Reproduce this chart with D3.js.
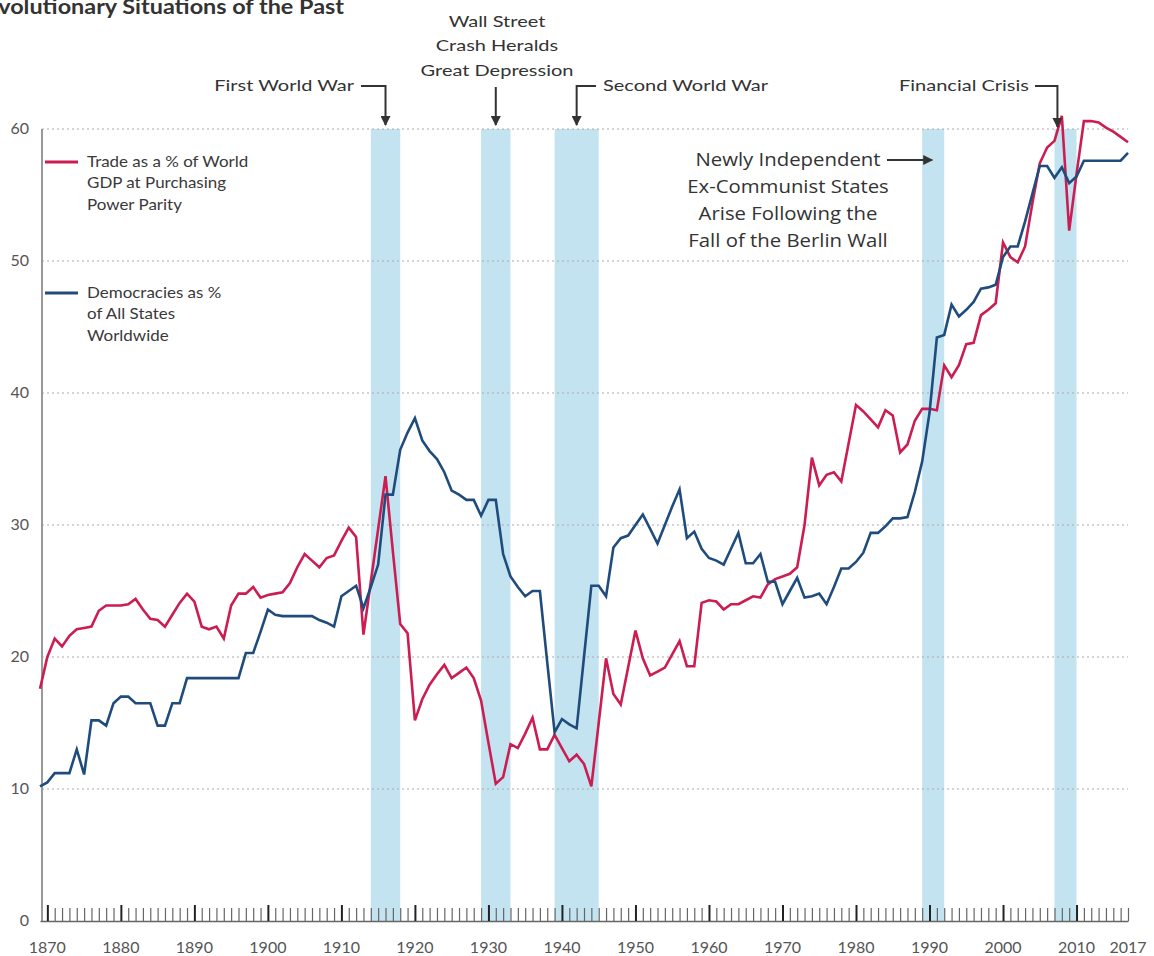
<!DOCTYPE html>
<html>
<head>
<meta charset="utf-8">
<script src="https://cdn.jsdelivr.net/npm/d3@7"></script>
<style>
	body { margin: 0; background: #fff; }
	svg { display: block; font-family: Lato, 'Open Sans', sans-serif; }
</style>
</head>
<body>
<svg width="1154" height="956"></svg>
<script>
// years run from the first point on the axis to 2017
const years = d3.range(1869, 2018);

// trade as a % of world GDP (PPP), one value per year
const trade = [
	17.6,
	20.0, 21.4, 20.8, 21.6, 22.1, 22.2, 22.3, 23.5, 23.9, 23.9, // 1870s
	23.9, 24.0, 24.4, 23.6, 22.9, 22.8, 22.3, 23.2, 24.1, 24.8, // 1880s
	24.2, 22.3, 22.1, 22.3, 21.4, 23.9, 24.8, 24.8, 25.3, 24.5, // 1890s
	24.7, 24.8, 24.9, 25.6, 26.8, 27.8, 27.3, 26.8, 27.5, 27.7, // 1900s
	28.8, 29.8, 29.1, 21.7, 25.7, 29.7, 33.7, 28.0, 22.5, 21.8, // 1910s
	15.2, 16.8, 17.9, 18.7, 19.4, 18.4, 18.8, 19.2, 18.4, 16.7, // 1920s
	13.5, 10.4, 10.9, 13.4, 13.1, 14.2, 15.4, 13.0, 13.0, 14.1, // 1930s
	13.1, 12.1, 12.6, 11.9, 10.2, 15.0, 19.9, 17.2, 16.4, 19.2, // 1940s
	22.0, 19.9, 18.6, 18.9, 19.2, 20.2, 21.2, 19.3, 19.3, 24.1, // 1950s
	24.3, 24.2, 23.6, 24.0, 24.0, 24.3, 24.6, 24.5, 25.5, 25.9, // 1960s
	26.1, 26.3, 26.8, 30.0, 35.1, 33.0, 33.8, 34.0, 33.3, 36.2, // 1970s
	39.1, 38.6, 38.0, 37.4, 38.7, 38.3, 35.5, 36.1, 37.9, 38.8, // 1980s
	38.8, 38.7, 42.1, 41.2, 42.1, 43.7, 43.8, 45.9, 46.3, 46.8, // 1990s
	51.4, 50.3, 49.9, 51.1, 54.4, 57.4, 58.6, 59.1, 61.0, 52.3, // 2000s
	56.6, 60.6, 60.6, 60.5, 60.1, 59.8, 59.4, 59.0              // 2010s
];

// democracies as % of all states
const democracy = [
	10.2,
	10.5, 11.2, 11.2, 11.2, 13.0, 11.1, 15.2, 15.2, 14.8, 16.5, // 1870s
	17.0, 17.0, 16.5, 16.5, 16.5, 14.8, 14.8, 16.5, 16.5, 18.4, // 1880s
	18.4, 18.4, 18.4, 18.4, 18.4, 18.4, 18.4, 20.3, 20.3, 21.9, // 1890s
	23.6, 23.2, 23.1, 23.1, 23.1, 23.1, 23.1, 22.8, 22.6, 22.3, // 1900s
	24.6, 25.0, 25.4, 23.7, 25.3, 27.0, 32.3, 32.3, 35.7, 37.0, // 1910s
	38.1, 36.4, 35.6, 35.0, 34.0, 32.6, 32.3, 31.9, 31.9, 30.7, // 1920s
	31.9, 31.9, 27.8, 26.1, 25.3, 24.6, 25.0, 25.0, 19.6, 14.3, // 1930s
	15.3, 14.9, 14.6, 20.0, 25.4, 25.4, 24.6, 28.3, 29.0, 29.2, // 1940s
	30.0, 30.8, 29.7, 28.6, 30.0, 31.4, 32.7, 29.0, 29.5, 28.2, // 1950s
	27.5, 27.3, 27.0, 28.2, 29.4, 27.1, 27.1, 27.8, 25.7, 25.7, // 1960s
	24.0, 25.0, 26.0, 24.5, 24.6, 24.8, 24.0, 25.3, 26.7, 26.7, // 1970s
	27.2, 27.9, 29.4, 29.4, 29.9, 30.5, 30.5, 30.6, 32.5, 34.8, // 1980s
	38.5, 44.2, 44.4, 46.7, 45.8, 46.3, 46.9, 47.9, 48.0, 48.2, // 1990s
	50.3, 51.1, 51.1, 53.0, 55.1, 57.2, 57.2, 56.3, 57.1, 55.9, // 2000s
	56.4, 57.6, 57.6, 57.6, 57.6, 57.6, 57.6, 58.2              // 2010s
];

// shaded periods [start, end]
const periods = [[1914, 1918], [1929, 1933], [1939, 1945], [1989, 1992], [2007, 2010]];

const yTicks = [10, 20, 30, 40, 50, 60];
const xLabels = [1870, 1880, 1890, 1900, 1910, 1920, 1930, 1940, 1950, 1960, 1970, 1980, 1990, 2000, 2010, 2017];

const tradeColor = '#cc1d52',
	demoColor = '#1f4c7c',
	bandColor = '#c4e3f1',
	inkColor = '#333';

const svg = d3.select('svg');

const x = d3.scaleLinear().domain([1869, 2017]).range([40, 1128]);
const y = d3.scaleLinear().domain([0, 60]).range([921, 129]);

// arrow head
svg.append('defs').append('marker')
	.attr('id', 'arrow')
	.attr('viewBox', '0 0 10 10')
	.attr('refX', 9)
	.attr('refY', 5)
	.attr('markerWidth', 5.5)
	.attr('markerHeight', 5)
	.attr('markerUnits', 'strokeWidth')
	.attr('orient', 'auto')
	.append('path')
	.attr('d', 'M0,0 L10,5 L0,10 Z')
	.attr('fill', inkColor);

// multi-line text, stretched a little sideways like the source lettering
function label(lines, tx, ty, opts) {
	let t = svg.append('text')
		.attr('transform', `translate(${tx},${ty}) scale(${opts.sx || 1},1)`)
		.attr('font-size', opts.size)
		.attr('font-weight', opts.weight || null)
		.attr('font-family', opts.font || null)
		.attr('text-anchor', opts.anchor || 'start')
		.attr('fill', opts.color || inkColor);
	t.selectAll('tspan')
		.data(lines)
		.enter().append('tspan')
		.attr('x', 0)
		.attr('y', function (d, i) { return i * (opts.lh || 0); })
		.text(function (d) { return d; });
	return t;
}

// title, clipped on the left like the source
label(['Revolutionary Situations of the Past'], 344, 14,
	{size: 20, weight: 'bold', anchor: 'end', sx: 1.17});

// shaded bands
svg.append('g')
	.selectAll('rect')
	.data(periods)
	.enter().append('rect')
	.attr('x', function (d) { return x(d[0]); })
	.attr('width', function (d) { return x(d[1]) - x(d[0]); })
	.attr('y', y(60))
	.attr('height', y(0) - y(60))
	.attr('fill', bandColor);

// dotted grid lines
svg.append('g')
	.selectAll('line')
	.data(yTicks)
	.enter().append('line')
	.attr('x1', 42)
	.attr('x2', x(2017))
	.attr('y1', function (d) { return y(d); })
	.attr('y2', function (d) { return y(d); })
	.attr('stroke', '#aaa')
	.attr('stroke-width', 1.2)
	.attr('stroke-dasharray', '2,3');

// y labels
svg.append('g')
	.selectAll('text')
	.data([0].concat(yTicks))
	.enter().append('text')
	.attr('x', 29)
	.attr('y', function (d) { return y(d) + 5; })
	.attr('text-anchor', 'end')
	.attr('font-size', 16)
	.attr('fill', '#555')
	.text(function (d) { return d; });

// y axis line
svg.append('line')
	.attr('x1', 42).attr('x2', 42)
	.attr('y1', y(60)).attr('y2', y(0))
	.attr('stroke', '#999')
	.attr('stroke-width', 2);

// x axis with yearly ticks
const xAxis = d3.axisBottom(x)
	.tickValues(d3.range(1870, 2018))
	.tickSize(0)
	.tickFormat('');

const axisG = svg.append('g')
	.attr('transform', `translate(0,${y(0)})`)
	.call(xAxis);
axisG.select('.domain').attr('stroke', '#666').attr('stroke-width', 1.5);

axisG.selectAll('.tick line')
	.attr('y2', function (d) { return d % 10 === 0 ? -16 : -13; })
	.attr('stroke', function (d) { return d % 10 === 0 ? '#222' : '#666'; })
	.attr('stroke-width', function (d) { return d % 10 === 0 ? 2 : 1.2; });

svg.append('g')
	.selectAll('text')
	.data(xLabels)
	.enter().append('text')
	.attr('x', function (d) { return x(d); })
	.attr('y', 953)
	.attr('text-anchor', 'middle')
	.attr('font-size', 16)
	.attr('fill', '#555')
	.text(function (d) { return d; });

// the two series
function drawSeries(values, color) {
	let line = d3.line()
		.x(function (d, i) { return x(years[i]); })
		.y(function (d) { return y(d); });
	svg.append('path')
		.datum(values)
		.attr('d', line)
		.attr('fill', 'none')
		.attr('stroke', color)
		.attr('stroke-width', 2.6);
}
drawSeries(trade, tradeColor);
drawSeries(democracy, demoColor);

// legend
const legend = [
	{color: tradeColor, y: 162, lines: ['Trade as a % of World', 'GDP at Purchasing', 'Power Parity']},
	{color: demoColor, y: 293, lines: ['Democracies as %', 'of All States', 'Worldwide']}
];
legend.forEach(item => {
	svg.append('line')
		.attr('x1', 45).attr('x2', 78)
		.attr('y1', item.y).attr('y2', item.y)
		.attr('stroke', item.color)
		.attr('stroke-width', 3);
	label(item.lines, 87, item.y + 5, {size: 15, sx: 1.13, lh: 21.5, color: '#3a3a3a'});
});

// event annotations with their arrows
function note(lines, tx, ty, anchor, path, big) {
	if (big) {
		label(lines, tx, ty, {size: 18.5, font: "'Open Sans'", anchor: anchor, sx: 1.1, lh: 27});
	} else {
		label(lines, tx, ty, {size: 16, anchor: anchor, sx: 1.25, lh: 24.5});
	}
	svg.append('path')
		.attr('d', d3.line()(path))
		.attr('fill', 'none')
		.attr('stroke', inkColor)
		.attr('stroke-width', 2)
		.attr('marker-end', 'url(#arrow)');
}

const topY = y(60) - 4;
note(['First World War'], 354, 91, 'end',
	[[361, 86], [x(1916), 86], [x(1916), topY]]);
note(['Wall Street', 'Crash Heralds', 'Great Depression'], 497, 27, 'middle',
	[[x(1931), 87], [x(1931), topY]]);
note(['Second World War'], 603, 91, 'start',
	[[596, 86], [x(1942), 86], [x(1942), topY]]);
note(['Financial Crisis'], 1029, 91, 'end',
	[[1035, 86], [x(2007.4), 86], [x(2007.4), topY + 2]]);
note(['Newly Independent', 'Ex-Communist States', 'Arise Following the', 'Fall of the Berlin Wall'], 788, 166, 'middle',
	[[887, 160], [x(1989) + 10, 160]], true);
</script>
</body>
</html>
